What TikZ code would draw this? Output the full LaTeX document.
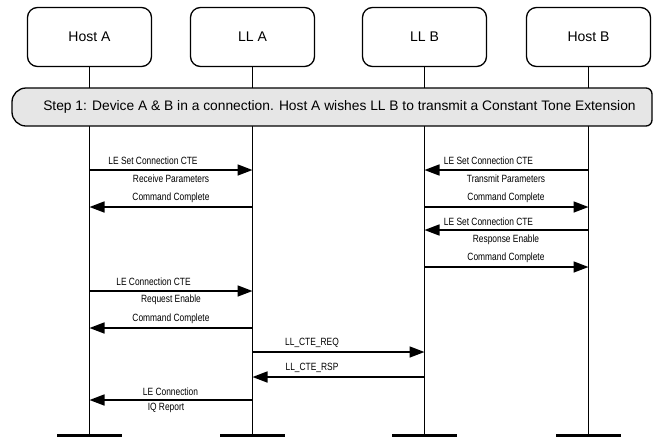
\documentclass[tikz,border=0pt]{standalone}
\usepackage{fontspec}
\setmainfont{Liberation Sans}
\newfontfamily\lblfont[FakeStretch=0.8]{Liberation Sans}
\usetikzlibrary{arrows.meta}
\definecolor{bannerfill}{HTML}{E6E6E6}
\begin{document}
\begin{tikzpicture}[x=1pt,y=-1pt,
  actor/.style={draw, line width=1.3pt, rounded corners=10pt,
    minimum width=124pt, minimum height=59pt,
    font=\fontsize{14}{16}\selectfont},
  life/.style={line width=1.3pt},
  msg/.style={line width=1.6pt, -{Triangle[length=15pt,width=11pt]}},
  lbl/.style={font=\lblfont\fontsize{10.5}{12}\selectfont, inner sep=0pt},
  banner/.style={draw, line width=1.3pt, fill=bannerfill},
  endbar/.style={line width=2.6pt}]
\useasboundingbox (0,0) rectangle (653,437);

% participants
\node[actor] (hostA) at (89.5,37)  {Host A};
\node[actor] (llA)   at (252.5,37) {LL A};
\node[actor] (llB)   at (424.5,37) {LL B};
\node[actor] (hostB) at (588.5,37) {Host B};

% lifeline ends
\coordinate (hostAend) at (89.5,435.5);
\coordinate (llAend)   at (252.5,435.5);
\coordinate (llBend)   at (424.5,435.5);
\coordinate (hostBend) at (588.5,435.5);

\foreach \p in {hostA,llA,llB,hostB}{
  \draw[life] (\p.south) -- (\p end);
  \draw[endbar] ([xshift=-32.5pt]\p end) -- ([xshift=32.5pt]\p end);
}

% step banner: large radius on the left, small on the right
\draw[banner] (26,88) -- (646,88)
  arc[start angle=-90, end angle=0, radius=6] -- (652,120)
  arc[start angle=0, end angle=90, radius=6] -- (26,126)
  arc[start angle=90, end angle=180, radius=14] -- (12,102)
  arc[start angle=180, end angle=270, radius=14] -- cycle;
\node[font=\fontsize{13.8}{16}\selectfont] (step) at (339.5,107)
  {Step 1: Device A \& B in a connection. Host A wishes LL B to transmit a Constant Tone Extension};

% messages
\draw[msg] (hostA |- 0,170) -- (llA |- 0,170);
\node[lbl] (m1a) at (153,161) {LE Set Connection CTE};
\node[lbl] (m1b) at (171,179) {Receive Parameters};

\draw[msg] (hostB |- 0,170) -- (llB |- 0,170);
\node[lbl] (m2a) at (488.5,161) {LE Set Connection CTE};
\node[lbl] (m2b) at (506,179) {Transmit Parameters};

\draw[msg] (llA |- 0,207) -- (hostA |- 0,207);
\node[lbl] (m3) at (171,198) {Command Complete};

\draw[msg] (llB |- 0,207) -- (hostB |- 0,207);
\node[lbl] (m4) at (506,198) {Command Complete};

\draw[msg] (hostB |- 0,230) -- (llB |- 0,230);
\node[lbl] (m5a) at (488.5,222) {LE Set Connection CTE};
\node[lbl] (m5b) at (506,240) {Response Enable};

\draw[msg] (llB |- 0,267) -- (hostB |- 0,267);
\node[lbl] (m6) at (506,258) {Command Complete};

\draw[msg] (hostA |- 0,291) -- (llA |- 0,291);
\node[lbl] (m7a) at (153.5,282) {LE Connection CTE};
\node[lbl] (m7b) at (171,300) {Request Enable};

\draw[msg] (llA |- 0,328) -- (hostA |- 0,328);
\node[lbl] (m8) at (171,319) {Command Complete};

\draw[msg] (llA |- 0,352) -- (llB |- 0,352);
\node[lbl] (m9) at (312,343) {LL\_CTE\_REQ};

\draw[msg] (llB |- 0,377) -- (llA |- 0,377);
\node[lbl] (m10) at (312,368) {LL\_CTE\_RSP};

\draw[msg] (llA |- 0,400) -- (hostA |- 0,400);
\node[lbl] (m11a) at (170.5,392) {LE Connection};
\node[lbl] (m11b) at (166,408) {IQ Report};
\end{tikzpicture}
\end{document}
